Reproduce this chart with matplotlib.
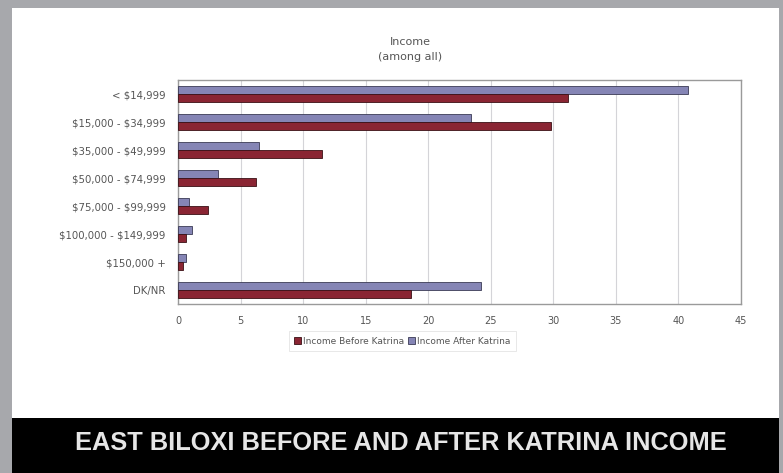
import numpy as np
import matplotlib
matplotlib.use("Agg")
import matplotlib.pyplot as plt
from matplotlib.patches import Rectangle

plt.rcParams["text.parse_math"] = False  # labels contain "$"

# Data (percent of respondents)
categories = ["< $14,999", "$15,000 - $34,999", "$35,000 - $49,999",
              "$50,000 - $74,999", "$75,000 - $99,999", "$100,000 - $149,999",
              "$150,000 +", "DK/NR"]
before_katrina = [31.2, 29.8, 11.5, 6.2, 2.4, 0.6, 0.4, 18.6]
after_katrina = [40.8, 23.4, 6.5, 3.2, 0.9, 1.1, 0.6, 24.2]
x_ticks = [0, 5, 10, 15, 20, 25, 30, 35, 40, 45]

W, H = 783, 473
fig = plt.figure(figsize=(W / 100, H / 100), dpi=100)
fig.patch.set_facecolor("#a7a8ac")

# white slide panel + black banner (behind the axes)
fig.patches.append(Rectangle((12 / W, 55 / H), (779 - 12) / W, (465 - 55) / H,
                             transform=fig.transFigure, facecolor="white",
                             edgecolor="none", zorder=-2))
fig.patches.append(Rectangle((12 / W, 0), (779 - 12) / W, 55 / H,
                             transform=fig.transFigure, facecolor="black",
                             edgecolor="none", zorder=-2))

ax = fig.add_axes([178 / W, (H - 304) / H, (741 - 178) / W, (304 - 80) / H])
ax.set_facecolor("white")

y = np.arange(len(categories))
h = 0.3
ax.barh(y - h / 2, after_katrina, height=h, color="#8585b5",
        edgecolor="#3a3a55", linewidth=0.6, label="Income After Katrina", zorder=3)
ax.barh(y + h / 2, before_katrina, height=h, color="#8a2533",
        edgecolor="#3a1015", linewidth=0.6, label="Income Before Katrina", zorder=3)

ax.set_ylim(len(categories) - 0.5, -0.5)
ax.set_yticks(y)
ax.set_yticklabels(categories, fontsize=7.3, color="#555555", family="DejaVu Sans")
ax.set_xlim(0, 45)
ax.set_xticks(x_ticks)
ax.set_xticklabels([str(t) for t in x_ticks], fontsize=7, color="#555555",
                   family="DejaVu Sans")
ax.tick_params(axis="y", length=0, pad=9)
ax.tick_params(axis="x", length=0, pad=9)
ax.grid(axis="x", color="#d4d4d8", linewidth=0.8, zorder=0)
for s in ax.spines.values():
    s.set_color("#9a9a9a")
    s.set_linewidth(1.0)

# title
fig.text(410 / W, (H - 42) / H, "Income", ha="center", va="center",
         fontsize=8, color="#555555", family="DejaVu Sans")
fig.text(410 / W, (H - 57) / H, "(among all)", ha="center", va="center",
         fontsize=8, color="#555555", family="DejaVu Sans")

# legend (Before first)
handles, labels = ax.get_legend_handles_labels()
leg = fig.legend(handles[::-1], labels[::-1], loc="center",
                 bbox_to_anchor=(402 / W, (H - 341) / H), ncol=2,
                 frameon=True, handlelength=0.8, handleheight=0.8,
                 handletextpad=0.2, columnspacing=0.4, borderpad=0.3,
                 prop={"family": "DejaVu Sans", "size": 6.5})
leg.get_frame().set_edgecolor("#dddddd")
leg.get_frame().set_linewidth(0.6)
leg.get_frame().set_boxstyle("square")
for t in leg.get_texts():
    t.set_color("#555555")

# banner
fig.text(401 / W, (H - 443) / H, "EAST BILOXI BEFORE AND AFTER KATRINA INCOME",
         ha="center", va="center", fontsize=18.3, fontweight="bold",
         color="#e6e6e6", family="Liberation Sans")

fig.savefig("out.png", dpi=100, facecolor=fig.get_facecolor())
